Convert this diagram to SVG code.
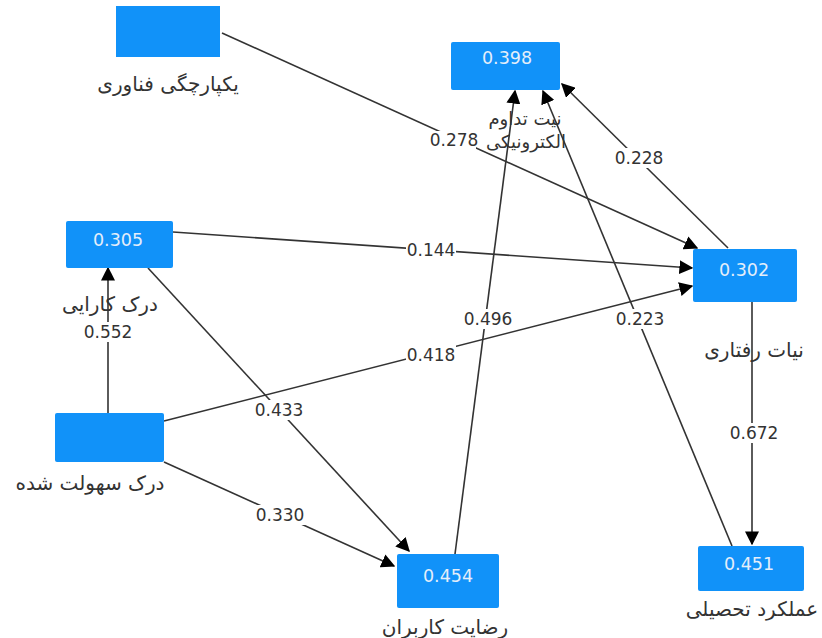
<svg xmlns="http://www.w3.org/2000/svg" width="822" height="638" viewBox="0 0 822 638">
<defs>
<marker id="arr" viewBox="0 0 10 10" refX="9" refY="5" markerWidth="14" markerHeight="14" markerUnits="userSpaceOnUse" orient="auto"><path d="M0,0 L10,5 L0,10 z" fill="#000"/></marker>
<style>
.box{fill:#1192f9;}
.val{font-family:"DejaVu Sans","Noto Sans",sans-serif;font-size:17.5px;fill:#e4eefa;text-anchor:middle;}
.lab{font-family:"DejaVu Sans","Noto Sans",sans-serif;font-size:20px;fill:#333;text-anchor:middle;}
.lab2{font-family:"DejaVu Sans","Noto Sans",sans-serif;font-size:18px;fill:#333;text-anchor:middle;}
.edge{stroke:#333;stroke-width:1.6;fill:none;marker-end:url(#arr);}
.el{font-family:"DejaVu Sans","Noto Sans",sans-serif;font-size:17px;fill:#333;text-anchor:middle;}
.bg{fill:#fff;}
</style>
</defs>
<rect width="822" height="638" fill="#fff"/>
<g id="connectors">
<line class="edge" x1="222" y1="33" x2="697" y2="248"/>
<line class="edge" x1="173" y1="232" x2="692" y2="268"/>
<line class="edge" x1="164" y1="421" x2="692" y2="286"/>
<line class="edge" x1="108" y1="413" x2="108" y2="268"/>
<line class="edge" x1="148" y1="268" x2="409" y2="551"/>
<line class="edge" x1="164" y1="462" x2="394" y2="566"/>
<line class="edge" x1="455" y1="554" x2="515" y2="91"/>
<line class="edge" x1="732" y1="546" x2="543" y2="91"/>
<line class="edge" x1="728" y1="248" x2="562" y2="84"/>
<line class="edge" x1="752" y1="302" x2="752" y2="544"/>
<rect class="bg" x="432" y="131" width="44" height="20"/><text class="el" x="454" y="146">0.278</text>
<rect class="bg" x="406" y="240" width="50" height="20"/><text class="el" x="431" y="256">0.144</text>
<rect class="bg" x="406" y="345" width="50" height="20"/><text class="el" x="431" y="361">0.418</text>
<rect class="bg" x="83" y="322" width="50" height="20"/><text class="el" x="108" y="338">0.552</text>
<rect class="bg" x="252" y="400" width="54" height="20"/><text class="el" x="279" y="416">0.433</text>
<rect class="bg" x="253" y="505" width="54" height="20"/><text class="el" x="280" y="521">0.330</text>
<rect class="bg" x="461" y="309" width="54" height="20"/><text class="el" x="488" y="325">0.496</text>
<rect class="bg" x="613" y="309" width="54" height="20"/><text class="el" x="640" y="325">0.223</text>
<rect class="bg" x="612" y="148" width="54" height="20"/><text class="el" x="639" y="164">0.228</text>
<rect class="bg" x="727" y="423" width="54" height="20"/><text class="el" x="754" y="439">0.672</text>
</g>
<g id="n-integration">
<rect class="box" x="116" y="6" width="104" height="51"/>
<text class="lab" x="168" y="91">یکپارچگی فناوری</text>
</g>
<g id="n-continuance">
<rect class="box" x="451" y="42" width="109" height="48" rx="2"/>
<text class="val" x="507" y="64">0.398</text>
<text class="lab2" x="525" y="125">نیت تداوم</text>
<text class="lab2" x="526" y="148">الکترونیکی</text>
</g>
<g id="n-efficiency">
<rect class="box" x="66" y="221" width="107" height="47" rx="2"/>
<text class="val" x="118" y="246">0.305</text>
<text class="lab" x="110" y="311">درک کارایی</text>
</g>
<g id="n-behavior">
<rect class="box" x="693" y="249" width="104" height="53" rx="2"/>
<text class="val" x="744" y="276">0.302</text>
<text class="lab" x="754" y="357">نیات رفتاری</text>
</g>
<g id="n-ease">
<rect class="box" x="55" y="413" width="109" height="49" rx="2"/>
<text class="lab" x="90" y="490">درک سهولت شده</text>
</g>
<g id="n-satisfaction">
<rect class="box" x="397" y="554" width="102" height="54" rx="2"/>
<text class="val" x="448" y="582">0.454</text>
<text class="lab" x="445" y="634">رضایت کاربران</text>
</g>
<g id="n-performance">
<rect class="box" x="698" y="546" width="106" height="45" rx="2"/>
<text class="val" x="749" y="570">0.451</text>
<text class="lab" x="752" y="616">عملکرد تحصیلی</text>
</g>
</svg>
